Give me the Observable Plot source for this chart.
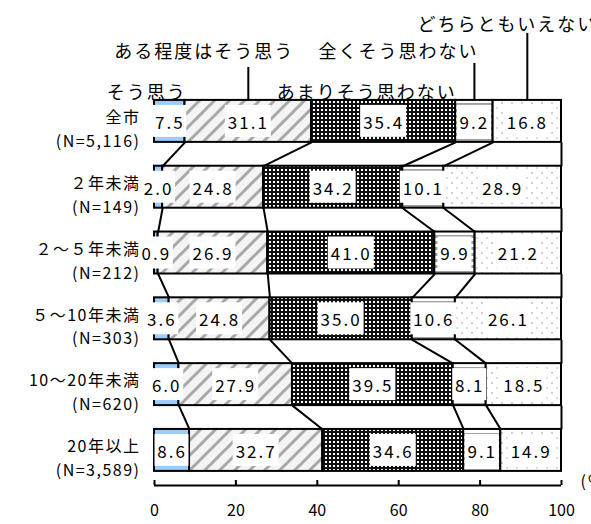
<!DOCTYPE html>
<html><head><meta charset="utf-8">
<script src="https://cdn.jsdelivr.net/npm/d3@7"></script>
<script src="https://cdn.jsdelivr.net/npm/@observablehq/plot@0.6"></script>
<style>
body{margin:0;background:#fff;}
svg text{letter-spacing:2px;}
</style></head><body><div id="chart"></div>
<script>
const categories = ["全市","２年未満","２～５年未満","５～10年未満","10～20年未満","20年以上"];
const sampleSizes = ["(N=5,116)","(N=149)","(N=212)","(N=303)","(N=620)","(N=3,589)"];
const seriesNames = ["そう思う","ある程度はそう思う","あまりそう思わない","全くそう思わない","どちらともいえない"];
const agree         = [7.5, 2.0, 0.9, 3.6, 6.0, 8.6];
const somewhatAgree = [31.1, 24.8, 26.9, 24.8, 27.9, 32.7];
const notMuch       = [35.4, 34.2, 41.0, 35.0, 39.5, 34.6];
const notAtAll      = [9.2, 10.1, 9.9, 10.6, 8.1, 9.1];
const neither       = [16.8, 28.9, 21.2, 26.1, 18.5, 14.9];
const xTicks = [0, 20, 40, 60, 80, 100];

const seriesValues = [agree, somewhatAgree, notMuch, notAtAll, neither];

// 100% stacked segments (normalised like a 100% stacked bar chart)
const segments = [];
const cums = [];
categories.forEach((c, i) => {
  const total = d3.sum(seriesValues, s => s[i]);
  let acc = 0;
  const cum = [0];
  seriesValues.forEach((vals, k) => {
    const v = vals[i] / total * 100;
    segments.push({row: i, k, x1: acc, x2: acc + v, mid: acc + v / 2, label: vals[i].toFixed(1)});
    acc += v;
    cum.push(acc);
  });
  cums.push(cum);
});

const h = 0.319;      // half bar thickness (row units)
const bh = 0.243;     // half label box height
const yMax = 5.533;

// series lines between consecutive bars
const connectors = [];
for (let i = 0; i < categories.length - 1; i++) {
  for (let k = 1; k <= seriesValues.length; k++) {
    connectors.push({x1: cums[i][k], y1: i + h, x2: cums[i + 1][k], y2: i + 1 - h});
  }
}

const fills = ["#99ccff", "url(#pat1)", "url(#pat2)", "url(#pat3)", "url(#pat4)"];
const legendLayout = [
  {dx: -23, dy: -2},
  {dx: -44, dy: -43, leaderTop: -33},
  {dx: -17, dy: -2},
  {dx: -76, dy: -43, leaderTop: -37},
  {dx: -20, dy: -70, leaderTop: -67}
];

const marks = [];
seriesValues.forEach((s, k) => {
  marks.push(Plot.rect(segments.filter(d => d.k === k), {
    x1: "x1", x2: "x2", y1: d => d.row - h, y2: d => d.row + h,
    fill: fills[k], stroke: "#000", strokeWidth: 2
  }));
});
marks.push(Plot.link(connectors, {x1: "x1", y1: "y1", x2: "x2", y2: "y2", stroke: "#000", strokeWidth: 2}));
// label boxes
[3, 4].forEach(len => {
  const w = len === 3 ? 34 : 46;
  marks.push(Plot.rect(segments.filter(d => d.label.length === len), {
    x1: "mid", x2: "mid", y1: d => d.row - bh, y2: d => d.row + bh,
    insetLeft: -w / 2, insetRight: -w / 2, fill: "#fff"
  }));
});
marks.push(Plot.text(segments, {x: "mid", y: "row", text: "label", fontSize: 17, dy: 2, fill: "#000"}));
// category labels
marks.push(Plot.text(categories, {
  y: (d, i) => i, text: (d, i) => d + "\n" + sampleSizes[i],
  frameAnchor: "left", dx: -14, dy: 6, textAnchor: "end", lineHeight: 1.5, fontSize: 16, fill: "#000"
}));
// legend labels with leader lines
seriesNames.forEach((name, k) => {
  const seg = segments.find(d => d.row === 0 && d.k === k);
  const L = legendLayout[k];
  marks.push(Plot.text([seg], {x: "mid", text: () => name, frameAnchor: "top", dx: L.dx, dy: L.dy, fontSize: 18, fill: "#000"}));
  if (L.leaderTop !== undefined) {
    marks.push(Plot.ruleX([seg], {x: "mid", y1: () => -h, y2: () => -h, insetTop: L.leaderTop, stroke: "#000", strokeWidth: 2}));
  }
});
// x axis
marks.push(Plot.ruleY([yMax], {stroke: "#000", strokeWidth: 2}));
marks.push(Plot.ruleX(xTicks, {x: d => d, y1: () => yMax, y2: () => yMax, insetTop: -5, stroke: "#000", strokeWidth: 2}));
marks.push(Plot.text(xTicks, {x: d => d, text: d => String(d), frameAnchor: "bottom", dy: 30, fontSize: 16, fill: "#000"}));
marks.push(Plot.text(["(%)"], {text: d => d, frameAnchor: "bottom-right", dx: 19, dy: 1, textAnchor: "start", fontSize: 16, fill: "#000"}));

const plot = Plot.plot({
  width: 591, height: 524,
  marginLeft: 154, marginRight: 30, marginTop: 88, marginBottom: 39,
  x: {domain: [0, 100], axis: null},
  y: {domain: [-0.5, yMax], reverse: true, axis: null},
  style: {fontFamily: "'Noto Sans CJK JP', sans-serif", background: "#fff", color: "#000"},
  marks
});

plot.insertAdjacentHTML("afterbegin", `<defs>
<pattern id="pat1" patternUnits="userSpaceOnUse" width="15" height="15">
  <rect width="15" height="15" fill="#f4f4f4"/>
  <rect x="0" y="0" width="1" height="1" fill="#dddddd"/>
  <rect x="8" y="8" width="1" height="1" fill="#dddddd"/>
  <path d="M0,15 L15,0 M-4,4 L4,-4 M11,19 L19,11" stroke="#a8a8a8" stroke-width="3"/>
</pattern>
<pattern id="pat2" patternUnits="userSpaceOnUse" width="4" height="4">
  <rect width="4" height="4" fill="#111"/>
  <rect x="1" y="1" width="2" height="2" fill="#fff"/>
</pattern>
<pattern id="pat3" patternUnits="userSpaceOnUse" width="6" height="6">
  <rect width="6" height="6" fill="#fff"/>
  <rect x="0" y="1" width="6" height="3" fill="#a0a0a0"/>
</pattern>
<pattern id="pat4" patternUnits="userSpaceOnUse" width="10" height="10">
  <rect width="10" height="10" fill="#fff"/>
  <rect x="1" y="2" width="2" height="2" fill="#d0d0d0"/>
  <rect x="6" y="7" width="2" height="2" fill="#dcdcdc"/>
</pattern>
</defs>`);

plot.querySelectorAll("text").forEach(t => {
  const s = t.textContent;
  if (/^\d+$/.test(s)) t.style.letterSpacing = "0px";
  else if (s.includes("N=")) t.style.letterSpacing = "1.5px";
});

document.getElementById("chart").appendChild(plot);
</script></body></html>
